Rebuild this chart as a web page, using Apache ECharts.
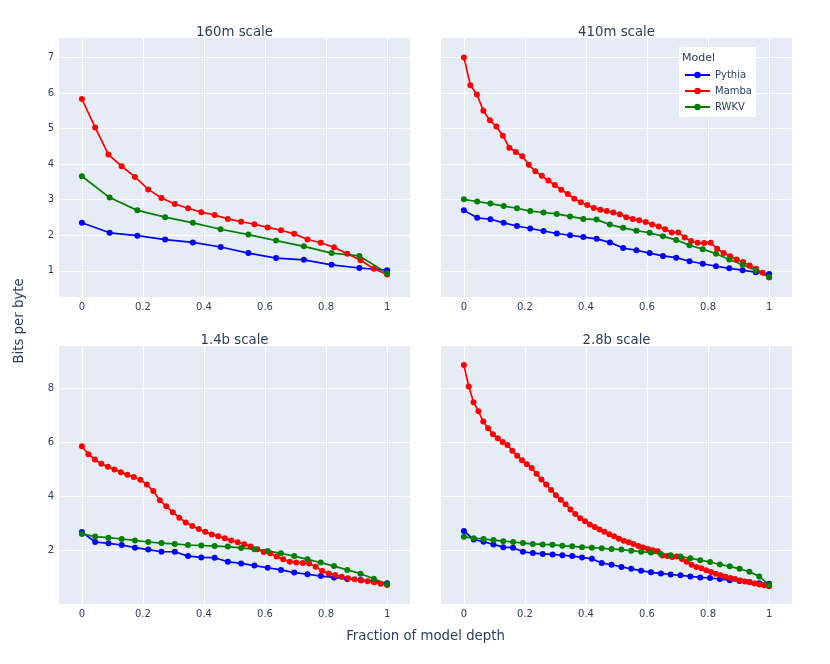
<!DOCTYPE html>
<html>
<head>
<meta charset="utf-8">
<title>Bits per byte by model depth</title>
<script src="https://cdn.jsdelivr.net/npm/echarts@6/dist/echarts.min.js"></script>
<style>
html, body { margin: 0; padding: 0; background: #fff; }
#main { width: 830px; height: 664px; }
</style>
</head>
<body>
<div id="main"></div>
<script>
// 160m
var pythia160 = [2.35, 2.07, 1.99, 1.88, 1.80, 1.67, 1.50, 1.36, 1.31, 1.17, 1.08, 1.02];
var mamba160 = [5.83, 5.03, 4.27, 3.94, 3.64, 3.29, 3.05, 2.88, 2.76, 2.65, 2.57, 2.46, 2.38, 2.31, 2.22, 2.14, 2.04, 1.88, 1.79, 1.66, 1.48, 1.30, 1.06, 0.90];
var rwkv160 = [3.66, 3.06, 2.70, 2.51, 2.35, 2.17, 2.02, 1.85, 1.69, 1.50, 1.42, 0.93];
// 410m
var pythia410 = [2.70, 2.49, 2.45, 2.35, 2.26, 2.19, 2.12, 2.05, 2.00, 1.95, 1.90, 1.80, 1.64, 1.58, 1.50, 1.42, 1.37, 1.27, 1.20, 1.13, 1.07, 1.02, 0.96, 0.91];
var mamba410 = [7.00, 6.22, 5.96, 5.50, 5.23, 5.06, 4.80, 4.46, 4.34, 4.22, 3.98, 3.80, 3.67, 3.54, 3.41, 3.28, 3.16, 3.03, 2.93, 2.85, 2.77, 2.72, 2.68, 2.64, 2.59, 2.51, 2.46, 2.42, 2.37, 2.30, 2.25, 2.17, 2.08, 2.08, 1.94, 1.84, 1.79, 1.78, 1.79, 1.62, 1.50, 1.41, 1.32, 1.25, 1.15, 1.06, 0.95, 0.81];
var rwkv410 = [3.01, 2.95, 2.89, 2.82, 2.76, 2.68, 2.64, 2.60, 2.53, 2.46, 2.44, 2.30, 2.21, 2.13, 2.07, 1.97, 1.87, 1.72, 1.61, 1.48, 1.32, 1.17, 1.01, 0.83];
// 1.4b
var pythia1b4 = [2.69, 2.32, 2.27, 2.21, 2.11, 2.04, 1.96, 1.96, 1.80, 1.75, 1.74, 1.59, 1.53, 1.45, 1.37, 1.29, 1.19, 1.13, 1.06, 1.01, 0.95, 0.92, 0.87, 0.80];
var mamba1b4 = [5.86, 5.56, 5.37, 5.21, 5.10, 5.00, 4.90, 4.80, 4.72, 4.62, 4.44, 4.20, 3.86, 3.64, 3.42, 3.22, 3.04, 2.91, 2.80, 2.70, 2.60, 2.53, 2.46, 2.38, 2.31, 2.24, 2.15, 2.05, 1.95, 1.90, 1.78, 1.68, 1.59, 1.56, 1.54, 1.53, 1.41, 1.25, 1.16, 1.10, 1.04, 0.98, 0.94, 0.90, 0.87, 0.83, 0.78, 0.73];
var rwkv1b4 = [2.62, 2.52, 2.48, 2.43, 2.38, 2.32, 2.28, 2.25, 2.21, 2.19, 2.17, 2.15, 2.10, 2.05, 1.99, 1.90, 1.80, 1.68, 1.56, 1.43, 1.29, 1.15, 0.96, 0.76];
// 2.8b
var pythia2b8 = [2.73, 2.41, 2.33, 2.23, 2.13, 2.11, 1.96, 1.91, 1.88, 1.86, 1.83, 1.80, 1.75, 1.70, 1.54, 1.48, 1.40, 1.33, 1.26, 1.20, 1.16, 1.12, 1.09, 1.05, 1.01, 0.99, 0.95, 0.91, 0.88, 0.84, 0.80, 0.78];
var mamba2b8 = [8.86, 8.06, 7.48, 7.15, 6.77, 6.52, 6.30, 6.15, 6.01, 5.90, 5.69, 5.51, 5.34, 5.19, 5.05, 4.84, 4.63, 4.44, 4.24, 4.05, 3.88, 3.71, 3.52, 3.35, 3.20, 3.09, 2.97, 2.87, 2.78, 2.70, 2.61, 2.53, 2.44, 2.37, 2.31, 2.25, 2.17, 2.12, 2.06, 2.02, 1.98, 1.82, 1.80, 1.77, 1.78, 1.69, 1.59, 1.48, 1.40, 1.35, 1.28, 1.21, 1.15, 1.09, 1.04, 0.99, 0.95, 0.90, 0.86, 0.83, 0.79, 0.75, 0.72, 0.69];
var rwkv2b8 = [2.51, 2.46, 2.43, 2.39, 2.35, 2.32, 2.28, 2.25, 2.23, 2.22, 2.18, 2.16, 2.13, 2.11, 2.09, 2.06, 2.04, 2.00, 1.96, 1.93, 1.88, 1.83, 1.78, 1.72, 1.65, 1.58, 1.49, 1.42, 1.33, 1.22, 1.05, 0.74];

var modelNames = ['Pythia', 'Mamba', 'RWKV'];
var modelColors = ['#0000ff', '#ff0000', '#008000'];
var panelTitles = ['160m scale', '410m scale', '1.4b scale', '2.8b scale'];
var panelData = [
    [pythia160, mamba160, rwkv160],
    [pythia410, mamba410, rwkv410],
    [pythia1b4, mamba1b4, rwkv1b4],
    [pythia2b8, mamba2b8, rwkv2b8]
];

var textColor = '#2a3f5f';
var font = 'DejaVu Sans';

// layer index -> fraction of model depth
function depthPoints(arr) {
    return arr.map(function (v, i) {
        return [i / (arr.length - 1), v];
    });
}

var grids = [
    { left: 59, top: 38, width: 351, height: 259 },
    { left: 441, top: 38, width: 351, height: 259 },
    { left: 59, top: 346, width: 351, height: 258 },
    { left: 441, top: 346, width: 351, height: 258 }
];
// plotly-like padded ranges, top row shares one y range, bottom row another
var yRanges = [[0.265, 7.545], [0.265, 7.545], [0.03, 9.56], [0.03, 9.56]];
var ySplits = [7, 7, 5, 5];

var xAxes = [], yAxes = [], series = [], texts = [];
grids.forEach(function (g, k) {
    g.show = true;
    g.backgroundColor = '#E5ECF6';
    g.borderWidth = 0;
    g.containLabel = false;

    xAxes.push({
        type: 'value',
        gridIndex: k,
        min: -0.075,
        max: 1.075,
        splitNumber: 6,
        axisLine: { show: false },
        axisTick: { show: false },
        axisLabel: {
            show: true,
            margin: 5,
            color: textColor,
            fontFamily: font,
            fontSize: 10,
            showMinLabel: false,
            showMaxLabel: false
        },
        splitLine: {
            show: true,
            showMinLine: false,
            showMaxLine: false,
            lineStyle: { color: '#ffffff', width: 1 }
        }
    });
    yAxes.push({
        type: 'value',
        gridIndex: k,
        min: yRanges[k][0],
        max: yRanges[k][1],
        splitNumber: ySplits[k],
        axisLine: { show: false },
        axisTick: { show: false },
        axisLabel: {
            show: k % 2 === 0, // right column shares y with the left one
            margin: 5,
            color: textColor,
            fontFamily: font,
            fontSize: 10,
            showMinLabel: false,
            showMaxLabel: false
        },
        splitLine: {
            show: true,
            showMinLine: false,
            showMaxLine: false,
            lineStyle: { color: '#ffffff', width: 1 }
        }
    });

    panelData[k].forEach(function (arr, m) {
        series.push({
            name: modelNames[m],
            type: 'line',
            xAxisIndex: k,
            yAxisIndex: k,
            symbol: 'circle',
            symbolSize: 6,
            showAllSymbol: true,
            lineStyle: { color: modelColors[m], width: 1.7 },
            itemStyle: { color: modelColors[m] },
            emphasis: { disabled: true },
            data: depthPoints(arr)
        });
    });

    texts.push({
        type: 'text',
        x: g.left + g.width / 2,
        y: g.top - 5.5,
        style: {
            text: panelTitles[k],
            fill: textColor,
            font: '13.3px "DejaVu Sans"',
            textAlign: 'center',
            textVerticalAlign: 'middle'
        }
    });
});

// axis titles
texts.push({
    type: 'text',
    x: 425.5,
    y: 637,
    style: {
        text: 'Fraction of model depth',
        fill: textColor,
        font: '13.3px "DejaVu Sans"',
        textAlign: 'center',
        textVerticalAlign: 'middle'
    }
});
texts.push({
    type: 'text',
    x: 20,
    y: 321,
    rotation: Math.PI / 2,
    style: {
        text: 'Bits per byte',
        fill: textColor,
        font: '13.3px "DejaVu Sans"',
        textAlign: 'center',
        textVerticalAlign: 'middle'
    }
});
// legend box + title
texts.push({
    type: 'rect',
    z: 5,
    shape: { x: 679, y: 47, width: 77, height: 70 },
    style: { fill: '#ffffff' }
});
texts.push({
    type: 'text',
    z: 6,
    x: 682,
    y: 58,
    style: {
        text: 'Model',
        fill: textColor,
        font: '11px "DejaVu Sans"',
        textAlign: 'left',
        textVerticalAlign: 'middle'
    }
});

var myChart = echarts.init(document.getElementById('main'));
var option = {
    animation: false,
    backgroundColor: '#ffffff',
    textStyle: { fontFamily: font },
    grid: grids,
    xAxis: xAxes,
    yAxis: yAxes,
    legend: {
        data: modelNames,
        orient: 'vertical',
        left: 684,
        top: 69,
        padding: 0,
        itemWidth: 25,
        itemHeight: 8,
        itemGap: 4,
        selectedMode: false,
        z: 10,
        textStyle: {
            color: textColor,
            fontFamily: font,
            fontSize: 10,
            lineHeight: 12
        }
    },
    graphic: texts,
    series: series
};
myChart.setOption(option);
</script>
</body>
</html>
